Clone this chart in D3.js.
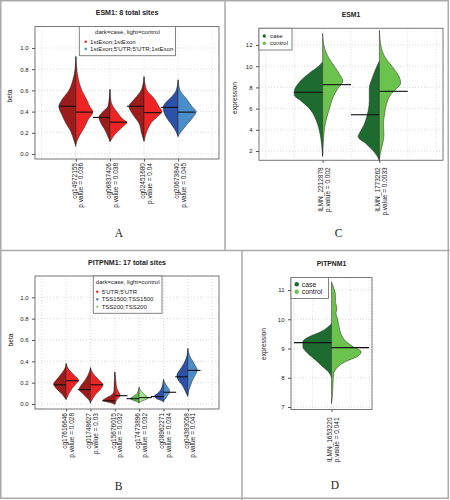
<!DOCTYPE html>
<html><head><meta charset="utf-8">
<script src="https://cdn.jsdelivr.net/npm/d3@7"></script>
<style>
body{margin:0;background:#fff}
svg{display:block}
text{font-family:"Liberation Sans",Arial,Helvetica,sans-serif;fill:#222}
</style>
</head><body>
<svg id="chart" width="450" height="500"></svg>
<script>
// ---------------- DATA ----------------
// Panel A (ESM1 methylation)
const sitesA = ["cg14972155","cg06837426","cg02451680","cg20673840"];
const pvalsA = ["0.036","0.038","0.04","0.045"];
const regionA = [0,0,0,1];                  // index into regionNamesA
const regionNamesA = ["1stExon;1stExon","1stExon;5'UTR;5'UTR;1stExon"];
const medCaseA = [0.45,0.345,0.45,0.44];
const medCtrlA = [0.395,0.30,0.39,0.395];
// density profiles: [beta value, density]
const densCaseA = [
  [[0.92,0],[0.79,1],[0.70,3],[0.60,7],[0.525,13],[0.446,17],[0.37,14],[0.29,10],[0.21,5],[0.13,2],[0.07,0]],
  [[0.61,0],[0.45,2],[0.40,7],[0.345,11],[0.29,9],[0.226,5],[0.163,2],[0.12,0]],
  [[0.73,0],[0.66,1],[0.60,3],[0.525,9],[0.446,15],[0.384,12],[0.33,8],[0.29,5],[0.195,2.5],[0.12,0]],
  [[0.70,0],[0.60,2],[0.525,8],[0.478,13],[0.437,15],[0.35,12],[0.27,6],[0.21,2],[0.16,0]]
];
const densCtrlA = [
  [[0.92,0],[0.73,2],[0.60,6],[0.51,11],[0.446,14],[0.40,17],[0.32,12],[0.26,9],[0.18,4],[0.12,1],[0.09,0]],
  [[0.61,0],[0.50,1],[0.45,3],[0.384,8],[0.32,14],[0.30,17],[0.26,13],[0.195,6],[0.16,3],[0.13,1],[0.115,0]],
  [[0.73,0],[0.66,1],[0.60,3],[0.525,10],[0.446,15],[0.40,18],[0.35,13],[0.305,8],[0.24,4],[0.16,1],[0.12,0]],
  [[0.70,0],[0.60,2],[0.525,8],[0.446,14],[0.40,18],[0.336,14],[0.27,8],[0.21,3],[0.17,0]]
];

// Panel B (PITPNM1 methylation)
const sitesB = ["cg17616646","cg01748627","cg15676015","cg17473896","cg08962271","cg04383058"];
const pvalsB = ["0.028","0.03","0.032","0.032","0.034","0.041"];
const regionB = [0,0,0,2,1,1];
const regionNamesB = ["5'UTR;5'UTR","TSS1500;TSS1500","TSS200;TSS200"];
const medCaseB = [0.18,0.135,0.03,0.05,0.07,0.255];
const medCtrlB = [0.218,0.18,0.078,0.06,0.11,0.315];
const densCaseB = [
  [[0.38,0],[0.32,2],[0.27,6],[0.224,10],[0.19,12.5],[0.146,10],[0.10,5],[0.053,1],[0.04,0]],
  [[0.34,0],[0.28,2],[0.23,5],[0.18,9],[0.137,11.5],[0.10,8],[0.06,4],[0.03,1],[0.005,0]],
  [[0.30,0],[0.20,0.5],[0.12,1],[0.08,4],[0.05,10],[0.035,12],[0.02,8],[0.005,2],[-0.005,0]],
  [[0.16,0],[0.12,1],[0.09,3],[0.065,7],[0.05,9],[0.035,6],[0.02,2],[0.01,0]],
  [[0.23,0],[0.18,1],[0.13,3],[0.10,6],[0.075,9],[0.05,7],[0.035,3],[0.02,0]],
  [[0.52,0],[0.45,1],[0.38,4],[0.32,8],[0.27,11],[0.23,10],[0.18,6],[0.13,3],[0.09,1],[0.07,0]]
];
const densCtrlB = [
  [[0.38,0],[0.32,3],[0.27,8],[0.224,12.5],[0.19,10],[0.146,6],[0.10,3],[0.06,1],[0.045,0]],
  [[0.34,0],[0.28,3],[0.23,8],[0.18,12.5],[0.137,10],[0.10,6],[0.06,3],[0.02,0.5],[0.01,0]],
  [[0.30,0],[0.22,1],[0.15,2],[0.11,4],[0.08,5.5],[0.06,4],[0.04,2],[0.02,1],[0.0,0]],
  [[0.15,0],[0.12,2],[0.09,5],[0.07,8],[0.055,9],[0.04,6],[0.025,2],[0.012,0]],
  [[0.23,0],[0.19,2],[0.16,4],[0.13,6],[0.11,6],[0.08,4],[0.05,2],[0.025,0]],
  [[0.52,0],[0.45,2],[0.40,5],[0.35,8],[0.32,9.5],[0.28,8],[0.23,5],[0.18,3],[0.13,1],[0.08,0]]
];

// Panel C (ESM1 expression)
const probesC = ["ILMN_2212878","ILMN_1773262"];
const pvalsC = ["0.002","0.0033"];
const medCaseC = [7.54,5.42];
const medCtrlC = [8.26,7.63];
const densCaseC = [
  [[10.4,0],[10.0,4],[9.5,11],[9.05,17],[8.6,22],[8.1,26],[7.6,28],[7.3,28],[6.7,21],[6.2,15],[5.75,11],[4.8,6],[3.6,2.5],[2.6,1],[1.5,0]],
  [[10.5,0],[10.1,2],[8.9,7],[7.9,10],[6.7,10],[5.4,12],[4.5,15],[3.8,19],[3.35,21],[2.75,14],[2.0,6],[1.3,1],[1.0,0]]
];
const densCtrlC = [
  [[13.1,0],[11.7,2],[10.8,6],[9.8,13],[9.2,17],[8.6,20],[7.9,15],[7.0,10],[6.05,7],[5.1,4],[4.2,2],[3.2,1],[1.5,0]],
  [[13.4,0],[11.7,2],[10.8,6],[9.8,14],[8.9,20],[8.4,21],[7.9,17],[7.3,11],[6.4,7],[5.4,5],[4.5,4],[3.5,4.5],[2.6,3],[1.8,1],[1.2,0]]
];

// Panel D (PITPNM1 expression)
const probesD = ["ILMN_1653220"];
const pvalsD = ["0.041"];
const medCaseD = [9.2];
const medCtrlD = [9.03];
const densCaseD = [
  [[9.85,0],[9.57,11],[9.4,22.7],[9.23,29],[9.06,29],[8.83,24],[8.6,16],[8.38,9],[8.2,3],[8.09,1],[8.0,0]]
];
const densCtrlD = [
  [[11.28,0],[11.1,2],[10.83,4],[10.6,4],[10.37,5.5],[10.2,4.5],[10.03,6],[9.69,8],[9.4,11],[9.23,15],[9.06,22],[8.89,30],[8.72,26],[8.55,14],[8.32,5],[8.09,2],[7.75,1.5],[7.4,1],[7.1,0]]
];

const yTicksBeta = [0,0.2,0.4,0.6,0.8,1.0];
const yTicksC = [2,4,6,8,10,12];
const yTicksD = [7,8,9,10,11];
const groupLabels = ["case","control"];

// ---------------- STYLE ----------------
const COL = {
  red:   {case:"#9c1b1b", ctrl:"#ee2424", dot:"#e3242b"},
  blue:  {case:"#2d50a8", ctrl:"#4a8dcc", dot:"#3f86c6"},
  lgreen:{case:"#5dbb4c", ctrl:"#a6e58f", dot:"#8fd97a"},
  green: {case:"#1d6b2e", ctrl:"#6bc24c"}
};
const svg = d3.select("#chart");

function panel(p){
  const g = svg.append("g");
  const x = d3.scaleLinear().domain(p.xDomain).range([p.box.l, p.box.r]);
  const y = d3.scaleLinear().domain(p.yRef).range(p.yPix);
  const W = x(p.wex) - x(0);
  const w = d3.scaleLinear().domain([0, p.dMax]).range([0, W]);
  // grid
  const grid = g.append("g").attr("stroke","#cfcfcf").attr("stroke-width",0.8).attr("stroke-dasharray","1,2");
  p.yTicks.forEach(t => grid.append("line").attr("x1",p.box.l).attr("x2",p.box.r).attr("y1",y(t)).attr("y2",y(t)));
  p.xGrid.forEach(t => grid.append("line").attr("x1",x(t)).attr("x2",x(t)).attr("y1",p.box.t).attr("y2",p.box.b));
  // violins
  p.names.forEach((nm,i) => {
    const cx = x(i+1);
    const col = p.colors[i];
    const left = d3.area().curve(d3.curveMonotoneY).y(d=>y(d[0])).x0(cx).x1(d=>cx - w(d[1]));
    const right = d3.area().curve(d3.curveMonotoneY).y(d=>y(d[0])).x0(cx).x1(d=>cx + w(d[1]));
    g.append("path").attr("d", left(p.dCase[i])).attr("fill", col.case).attr("stroke","#1a1a1a").attr("stroke-width",0.45);
    g.append("path").attr("d", right(p.dCtrl[i])).attr("fill", col.ctrl).attr("stroke","#1a1a1a").attr("stroke-width",0.45);
    g.append("line").attr("x1",cx-W).attr("x2",cx).attr("y1",y(p.mCase[i])).attr("y2",y(p.mCase[i]))
      .attr("stroke","#111").attr("stroke-width",1.1);
    g.append("line").attr("x1",cx).attr("x2",cx+W).attr("y1",y(p.mCtrl[i])).attr("y2",y(p.mCtrl[i]))
      .attr("stroke","#111").attr("stroke-width",1.1);
    // rotated x label
    const t = g.append("text").attr("transform",`translate(${cx},${p.box.b + p.labGap}) rotate(-90)`)
      .attr("text-anchor","end").style("font-size","6.5px");
    t.append("tspan").attr("x",0).attr("y",0.8).text(nm);
    t.append("tspan").attr("x",0).attr("y",7.6).text("p.value = " + p.pvals[i]);
  });
  // box
  g.append("rect").attr("x",p.box.l).attr("y",p.box.t).attr("width",p.box.r-p.box.l).attr("height",p.box.b-p.box.t)
    .attr("fill","none").attr("stroke","#777").attr("stroke-width",1);
  // axes
  const ya = g.append("g").attr("transform",`translate(${p.box.l},0)`)
    .call(d3.axisLeft(y).tickValues(p.yTicks).tickFormat(p.fmt).tickSize(3).tickPadding(3.5));
  ya.select(".domain").remove();
  ya.selectAll("line").attr("stroke","#555");
  ya.selectAll("text").style("font-size","6px").attr("fill","#222").style("font-family",'"Liberation Sans",Arial,sans-serif');
  const xa = g.append("g").attr("transform",`translate(0,${p.box.b})`)
    .call(d3.axisBottom(x).tickValues(p.names.map((d,i)=>i+1)).tickFormat("").tickSize(2.5));
  xa.select(".domain").remove();
  xa.selectAll("line").attr("stroke","#555");
  // title
  g.append("text").attr("x",(p.box.l+p.box.r)/2).attr("y",p.titleY).attr("text-anchor","middle")
    .style("font-size",p.titleSize+"px").style("font-weight","bold").text(p.title);
  // y label
  g.append("text").attr("transform",`translate(${p.ylabX},${p.ylabY}) rotate(-90)`).attr("text-anchor","middle")
    .style("font-size",p.ylabSize+"px").text(p.ylab);
  // letter
  g.append("text").attr("x",p.letter[1]).attr("y",p.letter[2]).attr("text-anchor","middle")
    .style("font-family",'"Liberation Serif","Times New Roman",serif').style("font-size","11.5px").attr("fill","#111").text(p.letter[0]);
  // legend
  const L = p.legend;
  const lg = g.append("g");
  lg.append("rect").attr("x",L.x).attr("y",L.y).attr("width",L.w).attr("height",L.h)
    .attr("fill","#fff").attr("stroke","#777").attr("stroke-width",0.9);
  if (L.title) lg.append("text").attr("x",L.x+L.w/2).attr("y",L.titleY).attr("text-anchor","middle")
    .style("font-size",L.fs+"px").text(L.title);
  L.items.forEach((it,k) => {
    const cy = L.firstY + k*L.step;
    lg.append("circle").attr("cx",L.dotX).attr("cy",cy).attr("r",L.r).attr("fill",it.color);
    lg.append("text").attr("x",L.textX).attr("y",cy+L.fs*0.36).style("font-size",L.fs+"px").text(it.label);
  });
}

// frame
svg.append("rect").attr("x",0.75).attr("y",0.75).attr("width",447.5).attr("height",497.5)
  .attr("fill","none").attr("stroke","#aaa").attr("stroke-width",1.5);
svg.append("line").attr("x1",0).attr("x2",450).attr("y1",250.5).attr("y2",250.5).attr("stroke","#aaa").attr("stroke-width",1.5);
svg.append("line").attr("x1",225).attr("x2",225).attr("y1",0).attr("y2",250.5).attr("stroke","#aaa").attr("stroke-width",1.5);
svg.append("line").attr("x1",242).attr("x2",242).attr("y1",250.5).attr("y2",500).attr("stroke","#aaa").attr("stroke-width",1.5);

const colorsA = regionA.map(r => [COL.red, COL.blue][r]);
const colorsB = regionB.map(r => [COL.red, COL.blue, COL.lgreen][r]);

panel({
  box:{l:35,r:219,t:26.5,b:159}, xDomain:[-0.2,5.2], yRef:[0,1], yPix:[154,48],
  yTicks:yTicksBeta, fmt:d3.format(".1f"), xGrid:[0,1,2,3,4,5],
  names:sitesA, pvals:pvalsA, colors:colorsA, dCase:densCaseA, dCtrl:densCtrlA,
  mCase:medCaseA, mCtrl:medCtrlA, dMax:17, wex:0.5, labGap:4,
  title:"ESM1: 8 total sites", titleY:15, titleSize:7.1,
  ylab:"beta", ylabX:12, ylabY:96, ylabSize:6.6,
  letter:["A",119,237.3],
  legend:{x:79.3,y:26.5,w:96.2,h:29.2,title:"dark=case, light=control",titleY:34.3,fs:6.1,
    firstY:41.8,step:7.2,dotX:85.7,textX:90,r:1.2,
    items:regionNamesA.map((l,k)=>({label:l,color:[COL.red.dot,COL.blue.dot][k]}))}
});

panel({
  box:{l:35,r:219,t:276,b:409}, xDomain:[-0.28,7.28], yRef:[0,1], yPix:[404,297.3],
  yTicks:yTicksBeta, fmt:d3.format(".1f"), xGrid:[0,1,2,3,4,5,6,7],
  names:sitesB, pvals:pvalsB, colors:colorsB, dCase:densCaseB, dCtrl:densCtrlB,
  mCase:medCaseB, mCtrl:medCtrlB, dMax:12.7, wex:0.52, labGap:4,
  title:"PITPNM1: 17 total sites", titleY:265, titleSize:7.1,
  ylab:"beta", ylabX:13, ylabY:340, ylabSize:6.6,
  letter:["B",118.5,490],
  legend:{x:93.3,y:276,w:68.7,h:37.3,title:"dark=case, light=control",titleY:284.3,fs:6,
    firstY:291.7,step:7.5,dotX:97.3,textX:101.7,r:1.2,
    items:regionNamesB.map((l,k)=>({label:l,color:[COL.red.dot,COL.blue.dot,COL.lgreen.dot][k]}))}
});

panel({
  box:{l:259,r:443,t:28.3,b:160.3}, xDomain:[-0.12,3.12], yRef:[2,12], yPix:[151,45],
  yTicks:yTicksC, fmt:d3.format("d"), xGrid:[0,0.5,1,1.5,2,2.5,3],
  names:probesC, pvals:pvalsC, colors:[COL.green,COL.green], dCase:densCaseC, dCtrl:densCtrlC,
  mCase:medCaseC, mCtrl:medCtrlC, dMax:28, wex:0.5, labGap:7,
  title:"ESM1", titleY:16.5, titleSize:6.8,
  ylab:"expression", ylabX:236.5, ylabY:98, ylabSize:6.6,
  letter:["C",338.7,237],
  legend:{x:259,y:28.3,w:33,h:21.7,title:null,fs:6,
    firstY:36,step:7.3,dotX:264.3,textX:270,r:1.7,
    items:groupLabels.map((l,k)=>({label:l,color:[COL.green.case,COL.green.ctrl][k]}))}
});

panel({
  box:{l:291,r:372,t:277.5,b:409.5}, xDomain:[-0.08,2.08], yRef:[7,11], yPix:[407,290],
  yTicks:yTicksD, fmt:d3.format("d"), xGrid:[0,0.5,1,1.5,2],
  names:probesD, pvals:pvalsD, colors:[COL.green], dCase:densCaseD, dCtrl:densCtrlD,
  mCase:medCaseD, mCtrl:medCtrlD, dMax:38, wex:1.0, labGap:8,
  title:"PITPNM1", titleY:266, titleSize:6.8,
  ylab:"expression", ylabX:266, ylabY:344, ylabSize:6.6,
  letter:["D",335,489],
  legend:{x:291,y:277.5,w:37.5,h:21,title:null,fs:6.9,
    firstY:284.3,step:7.4,dotX:296.7,textX:301.7,r:2.2,
    items:groupLabels.map((l,k)=>({label:l,color:[COL.green.case,COL.green.ctrl][k]}))}
});
</script>
</body></html>
